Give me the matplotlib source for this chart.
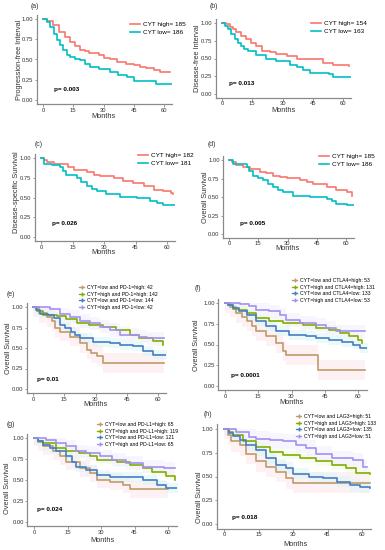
import matplotlib
matplotlib.use("Agg")
import matplotlib.pyplot as plt
from matplotlib.lines import Line2D

plt.rcParams['font.family'] = ['Liberation Sans', 'DejaVu Sans']

W, H = 385, 550
RED = '#F8766D'
TEAL = '#00BFC4'
BROWN = '#C09A6B'
GREEN = '#7FAE00'
BLUE = '#4A7DC0'
PURPLE = '#A58FF0'
# pale band colours used behind the four-group curves
BAND = ['#FDE9EE', '#F4F9E6', '#DDF6F8', '#F3EFFD']

# ---- data (months, survival probability) ----
a_high_t = [0, 2, 5, 8, 11, 13.5, 16, 18.5, 21, 23, 28, 30, 33, 36.5, 41, 45, 48, 51, 55, 58, 63]
a_high_s = [1.0, 0.97, 0.93, 0.84, 0.78, 0.72, 0.67, 0.62, 0.60, 0.58, 0.56, 0.52, 0.50, 0.47, 0.45, 0.43, 0.41, 0.39, 0.37, 0.35, 0.35]
a_low_t = [0, 2, 3.6, 5.5, 7, 8.5, 10, 12, 13.5, 16, 18.5, 21, 23.5, 28, 33, 37, 41.5, 45, 55, 56, 64]
a_low_s = [1.0, 0.96, 0.90, 0.82, 0.74, 0.68, 0.62, 0.56, 0.53, 0.51, 0.49, 0.45, 0.41, 0.38, 0.34, 0.31, 0.28, 0.24, 0.23, 0.195, 0.195]

b_high_t = [0, 2, 3.8, 5.5, 7, 9.5, 12, 14.5, 17, 20, 24, 27, 32, 37, 47, 50, 55, 63]
b_high_s = [1.0, 0.98, 0.95, 0.91, 0.87, 0.82, 0.78, 0.72, 0.67, 0.61, 0.59, 0.57, 0.53, 0.50, 0.49, 0.43, 0.41, 0.40]
b_low_t = [0, 1.5, 3, 4.5, 6.3, 8, 9.6, 11, 13, 17, 22, 27, 33.5, 37, 40, 43.5, 53, 55, 65]
b_low_s = [1.0, 0.96, 0.92, 0.85, 0.78, 0.72, 0.67, 0.63, 0.60, 0.55, 0.50, 0.46, 0.41, 0.38, 0.34, 0.29, 0.28, 0.24, 0.24]

c_high_t = [0, 1.5, 3, 6, 10.8, 13, 15.5, 22, 25, 28, 34.6, 39, 44, 49, 53.6, 58, 62, 63]
c_high_s = [1.0, 0.97, 0.95, 0.93, 0.92, 0.88, 0.85, 0.82, 0.79, 0.77, 0.75, 0.71, 0.68, 0.64, 0.60, 0.58, 0.56, 0.55]
c_low_t = [0, 1.3, 5, 9, 10.5, 12, 17, 19, 22, 24.5, 26.7, 31, 37.8, 45.7, 52, 55, 58, 64.8]
c_low_s = [1.0, 0.93, 0.91, 0.89, 0.84, 0.79, 0.75, 0.70, 0.64, 0.61, 0.58, 0.54, 0.51, 0.49, 0.45, 0.43, 0.41, 0.39]

d_high_t = [0, 1.5, 3.8, 7, 10.6, 15.8, 19, 22.7, 26, 29.6, 36.4, 40, 43, 50, 55, 60.5, 63]
d_high_s = [1.0, 0.97, 0.93, 0.91, 0.88, 0.84, 0.82, 0.79, 0.77, 0.76, 0.73, 0.70, 0.67, 0.64, 0.59, 0.57, 0.52]
d_low_t = [0, 2, 9, 10.5, 12.4, 15, 17.5, 20, 22.7, 25, 27.8, 33, 41.6, 50, 53, 55, 60.5, 65.6]
d_low_s = [1.0, 0.94, 0.91, 0.85, 0.79, 0.76, 0.73, 0.68, 0.64, 0.60, 0.57, 0.52, 0.50, 0.47, 0.44, 0.41, 0.39, 0.38]

e_lowhigh_t = [0, 3, 6.7, 9, 10.7, 13, 17.8, 22.6, 25.8, 28, 30.6, 33.8, 63]
e_lowhigh_s = [1.0, 0.93, 0.88, 0.83, 0.74, 0.70, 0.64, 0.56, 0.48, 0.44, 0.40, 0.32, 0.32]
e_highhigh_t = [0, 2, 5, 11.5, 16, 21, 27, 33.8, 40, 46.5, 51, 57.6, 62.4]
e_highhigh_s = [1.0, 0.95, 0.90, 0.89, 0.85, 0.81, 0.78, 0.76, 0.72, 0.66, 0.62, 0.58, 0.54]
e_lowlow_t = [0, 1.5, 3.5, 7, 10, 13, 15.5, 18, 20, 22.6, 29, 37, 41.7, 48, 53, 57.6, 65.6]
e_lowlow_s = [1.0, 0.96, 0.92, 0.90, 0.87, 0.78, 0.74, 0.70, 0.66, 0.62, 0.57, 0.56, 0.54, 0.52, 0.46, 0.42, 0.41]
e_highlow_t = [0, 5, 8.3, 13, 17.8, 22.6, 27.4, 32, 37, 41.7, 51, 54.5, 63]
e_highlow_s = [1.0, 1.0, 0.97, 0.91, 0.88, 0.83, 0.80, 0.76, 0.72, 0.66, 0.64, 0.62, 0.62]
e_ci = [0.12, 0.05, 0.06, 0.08]

f_lowhigh_t = [0, 2.2, 5, 7.5, 9.7, 12, 14, 18.7, 23, 26, 27.7, 42, 63]
f_lowhigh_s = [1.0, 0.95, 0.88, 0.83, 0.78, 0.72, 0.66, 0.60, 0.52, 0.42, 0.375, 0.19, 0.19]
f_highhigh_t = [0, 1.5, 3.7, 6.5, 9.7, 14, 20, 26, 35, 41, 47, 51.7, 56, 60, 62]
f_highhigh_s = [1.0, 0.97, 0.93, 0.91, 0.88, 0.82, 0.78, 0.76, 0.74, 0.70, 0.68, 0.64, 0.60, 0.56, 0.52]
f_lowlow_t = [0, 1.5, 3.7, 6.5, 9.7, 14, 18.7, 23, 29, 36.7, 41, 47, 53, 57.7, 60.7, 65]
f_lowlow_s = [1.0, 0.97, 0.94, 0.90, 0.86, 0.78, 0.72, 0.66, 0.62, 0.60, 0.58, 0.56, 0.53, 0.50, 0.46, 0.44]
f_highlow_t = [0, 6.7, 11, 14, 20, 24.7, 27.7, 33.7, 41, 45.7, 50, 63]
f_highlow_s = [1.0, 0.985, 0.96, 0.92, 0.90, 0.86, 0.80, 0.76, 0.74, 0.70, 0.66, 0.66]
f_ci = [0.12, 0.05, 0.06, 0.08]

g_lowhigh_t = [0, 2, 4, 8.5, 11.5, 14.5, 20.4, 25, 28, 34, 40, 43, 60]
g_lowhigh_s = [1.0, 0.95, 0.90, 0.84, 0.78, 0.72, 0.64, 0.58, 0.50, 0.48, 0.44, 0.39, 0.39]
g_highhigh_t = [0, 2, 4, 10, 14.5, 20, 25, 28, 37, 43, 49, 53, 59, 63]
g_highhigh_s = [1.0, 0.97, 0.94, 0.88, 0.84, 0.82, 0.78, 0.74, 0.72, 0.68, 0.64, 0.60, 0.55, 0.50]
g_lowlow_t = [0, 2, 4, 7, 10, 14.5, 17, 19, 23.4, 28, 34, 43, 49, 55, 59, 65]
g_lowlow_s = [1.0, 0.96, 0.92, 0.88, 0.84, 0.78, 0.72, 0.66, 0.62, 0.56, 0.54, 0.535, 0.50, 0.44, 0.40, 0.39]
g_highlow_t = [0, 5.5, 10, 14.5, 19, 23.4, 29.4, 35, 41, 49, 58, 63]
g_highlow_s = [1.0, 0.98, 0.94, 0.90, 0.84, 0.82, 0.78, 0.74, 0.70, 0.66, 0.64, 0.64]
g_ci = [0.10, 0.05, 0.06, 0.08]

h_lowhigh_t = [0, 1.7, 3.2, 6.8, 9.7, 14, 18.4, 22.8, 27, 30, 63.3]
h_lowhigh_s = [1.0, 0.94, 0.87, 0.83, 0.74, 0.66, 0.60, 0.55, 0.48, 0.435, 0.435]
h_highhigh_t = [0, 2, 3.9, 8.3, 14, 19.8, 25.6, 33, 40, 47, 53, 57.5, 63.3]
h_highhigh_s = [1.0, 0.97, 0.94, 0.87, 0.81, 0.76, 0.73, 0.69, 0.66, 0.62, 0.59, 0.54, 0.53]
h_lowlow_t = [0, 2, 3.9, 7, 9.7, 14, 18.4, 22.8, 27, 30, 37, 43, 49, 54.6, 59, 63.3]
h_lowlow_s = [1.0, 0.96, 0.93, 0.88, 0.83, 0.78, 0.69, 0.62, 0.59, 0.53, 0.49, 0.48, 0.445, 0.41, 0.39, 0.375]
h_highlow_t = [0, 5.4, 11, 14, 19.8, 25.6, 31.4, 35.8, 40, 47, 56, 60.4, 62]
h_highlow_s = [1.0, 0.97, 0.92, 0.90, 0.88, 0.87, 0.83, 0.80, 0.74, 0.69, 0.67, 0.60, 0.60]
h_ci = [0.11, 0.05, 0.06, 0.08]

x_ticks = [0, 15, 30, 45, 60]
y_ticks = [0.0, 0.25, 0.5, 0.75, 1.0]
y_ticklabels = ['0.00', '0.25', '0.50', '0.75', '1.00']

fig = plt.figure(figsize=(W / 100, H / 100), dpi=100)


def fx(px):
    return px / W


def fy(py):
    return 1 - py / H


def km_axes(x0, x60, y1, y0):
    # place the axes so that data 0 / 60 months and 0 / 1 survival hit the given pixels
    sx = (x60 - x0) / 60.0
    sy = (y0 - y1)
    left = x0 - 3 * sx
    right = x0 + 64 * sx
    top = y1 - 0.05 * sy
    bottom = y0 + 0.05 * sy
    ax = fig.add_axes([fx(left), fy(bottom), (right - left) / W, (bottom - top) / H])
    ax.set_xlim(-3, 64)
    ax.set_ylim(-0.05, 1.05)
    for side in ['top', 'right']:
        ax.spines[side].set_visible(False)
    for side in ['left', 'bottom']:
        ax.spines[side].set_color('#8a8a8a')
        ax.spines[side].set_linewidth(0.9)
    ax.set_xticks(x_ticks)
    ax.set_yticks(y_ticks)
    ax.set_yticklabels(y_ticklabels)
    ax.tick_params(labelsize=4.2, length=1.8, width=0.6, pad=0.8, colors='#8a8a8a', labelcolor='#333333')
    return ax


def step(ax, t, s, color, label):
    return ax.step(t, s, where='post', color=color, lw=1.2, label=label, zorder=3)[0]


def two_panel(ax, high, low, labels, leg_xy):
    l1 = step(ax, high[0], high[1], RED, labels[0])
    l2 = step(ax, low[0], low[1], TEAL, labels[1])
    ax.legend(handles=[l1, l2], loc='upper left', bbox_to_anchor=(fx(leg_xy[0]), fy(leg_xy[1])),
              bbox_transform=fig.transFigure, frameon=False, fontsize=4.6, handlelength=1.6,
              handletextpad=0.5, borderpad=0, borderaxespad=0, labelspacing=0.35)


def four_panel(ax, curves, ci, labels, leg_xy):
    cols = [BROWN, GREEN, BLUE, PURPLE]
    handles = []
    for (t, s), w, c, b, lab in zip(curves, ci, cols, BAND, labels):
        lo = [max(v - w, 0) for v in s]
        hi = [min(v + w, 1) for v in s]
        ax.fill_between(t, lo, hi, step='post', color=b, lw=0, alpha=0.6, zorder=1)
        step(ax, t, s, c, lab)
        handles.append(Line2D([], [], color=c, lw=0.9, marker='+', markersize=2.5, label=lab))
    ax.legend(handles=handles, loc='upper left', bbox_to_anchor=(fx(leg_xy[0]), fy(leg_xy[1])),
              bbox_transform=fig.transFigure, frameon=False, fontsize=3.7, handlelength=1.0,
              handletextpad=0.5, borderpad=0, borderaxespad=0, labelspacing=0.3)


def texts(tag, tag_xy, ylab, ylab_xy, months_xy, pval, p_xy):
    fig.text(fx(tag_xy[0]), fy(tag_xy[1]), tag, fontsize=5, ha='left', va='center', color='#333333')
    fig.text(fx(ylab_xy[0]), fy(ylab_xy[1]), ylab, fontsize=5.3, rotation=90, ha='center', va='center',
             color='#333333')
    fig.text(fx(months_xy[0]), fy(months_xy[1]), 'Months', fontsize=5.3, ha='center', va='center',
             color='#333333')
    fig.text(fx(p_xy[0]), fy(p_xy[1]), pval, fontsize=4.6, fontweight='bold', ha='left', va='center')


# (a)
ax = km_axes(43, 164, 19, 100)
two_panel(ax, (a_high_t, a_high_s), (a_low_t, a_low_s), ['CYT high= 185', 'CYT low= 186'], (130, 22))
texts('(a)', (31, 7), 'Progression-free Interval', (20, 60), (104, 117), 'p= 0.003', (54, 89))

# (b)
ax = km_axes(222, 343, 23, 94)
two_panel(ax, (b_high_t, b_high_s), (b_low_t, b_low_s), ['CYT high= 154', 'CYT low= 163'], (311, 21))
texts('(b)', (210, 7), 'Disease-free Interval', (198, 58), (283, 110), 'p= 0.013', (229, 83))

# (c)
ax = km_axes(41, 167, 158, 237)
two_panel(ax, (c_high_t, c_high_s), (c_low_t, c_low_s), ['CYT high= 182', 'CYT low= 181'], (138, 153))
texts('(c)', (35, 144), 'Disease-specific Survival', (17, 192), (104, 252), 'p= 0.026', (52, 223))

# (d)
ax = km_axes(229, 346, 160, 234)
two_panel(ax, (d_high_t, d_high_s), (d_low_t, d_low_s), ['CYT high= 185', 'CYT low= 186'], (319, 154))
texts('(d)', (208, 144), 'Overall Survival', (206, 197), (288, 249), 'p= 0.005', (240, 223))

# (e)
ax = km_axes(33, 158, 307, 389)
four_panel(ax, [(e_lowhigh_t, e_lowhigh_s), (e_highhigh_t, e_highhigh_s), (e_lowlow_t, e_lowlow_s),
                (e_highlow_t, e_highlow_s)], e_ci,
           ['CYT=low and PD-1=high: 42', 'CYT=high and PD-1=high: 142', 'CYT=low and PD-1=low: 144',
            'CYT=high and PD-1=low: 42'], (79, 285))
texts('(e)', (7, 294), 'Overall Survival', (9, 348), (96, 405), 'p= 0.01', (37, 379))

# (f)
ax = km_axes(225, 358, 303, 386)
four_panel(ax, [(f_lowhigh_t, f_lowhigh_s), (f_highhigh_t, f_highhigh_s), (f_lowlow_t, f_lowlow_s),
                (f_highlow_t, f_highlow_s)], f_ci,
           ['CYT=low and CTLA4=high: 53', 'CYT=high and CTLA4=high: 131', 'CYT=low and CTLA4=low: 133',
            'CYT=high and CTLA4=low: 53'], (292, 278))
texts('(f)', (195, 288), 'Overall Survival', (197, 345), (292, 403), 'p= 0.0001', (231, 375))

# (g)
ax = km_axes(34, 168, 438, 522)
four_panel(ax, [(g_lowhigh_t, g_lowhigh_s), (g_highhigh_t, g_highhigh_s), (g_lowlow_t, g_lowlow_s),
                (g_highlow_t, g_highlow_s)], g_ci,
           ['CYT=low and PD-L1=high: 65', 'CYT=high and PD-L1=high: 119', 'CYT=low and PD-L1=low: 121',
            'CYT=high and PD-L1=low: 65'], (97, 422))
texts('(g)', (7, 425), 'Overall Survival', (8, 488), (103, 541), 'p= 0.024', (37, 510))

# (h)
ax = km_axes(224, 362, 429, 524)
four_panel(ax, [(h_lowhigh_t, h_lowhigh_s), (h_highhigh_t, h_highhigh_s), (h_lowlow_t, h_lowlow_s),
                (h_highlow_t, h_highlow_s)], h_ci,
           ['CYT=low and LAG3=high: 51', 'CYT=high and LAG3=high: 133', 'CYT=low and LAG3=low: 135',
            'CYT=high and LAG3=low: 51'], (296, 414))
texts('(h)', (204, 415), 'Overall Survival', (200, 497), (295, 545), 'p= 0.018', (232, 517))

fig.savefig('out.png', dpi=100)
